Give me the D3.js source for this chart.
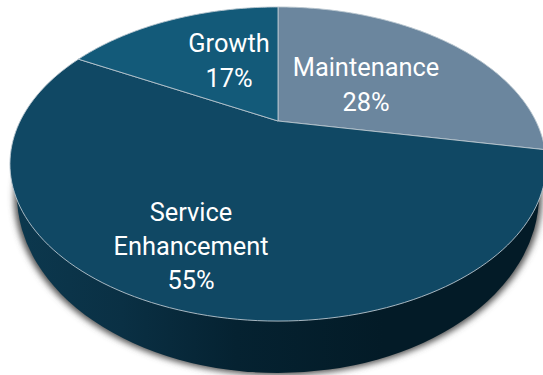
<!DOCTYPE html>
<html>
<head>
<meta charset="utf-8">
<script src="https://cdn.jsdelivr.net/npm/d3@7"></script>
<style>
  html, body { margin: 0; padding: 0; background: #fff; }
  svg { display: block; }
  text { font-family: Roboto, sans-serif; fill: #fff; }
</style>
</head>
<body>
<script>
const categories = ["Maintenance", "Service Enhancement", "Growth"];
const shares = [28, 55, 17];
const sliceColors = ["#6b869e", "#104864", "#135a79"];

const W = 543, H = 375;
const svg = d3.select("body").append("svg").attr("width", W).attr("height", H);
const defs = svg.append("defs");

const sideGrad = defs.append("linearGradient").attr("id", "side");
[[0, "#0c384e"], [0.2, "#0a3044"], [0.42, "#052231"], [0.7, "#031b27"], [1, "#031b27"]]
  .forEach(([o, c]) => sideGrad.append("stop").attr("offset", o).attr("stop-color", c));

const shadow = defs.append("filter").attr("id", "soft")
  .attr("x", "-10%").attr("y", "-10%").attr("width", "120%").attr("height", "120%");
shadow.append("feGaussianBlur").attr("stdDeviation", 3.2);

// Tilted disc: a unit circle seen in perspective, so the centre sits above the ellipse middle.
const cx = 278, radius = 257.8;
const depth = -0.274, yScale = 112.1, yCentre = 121;
function project(angle) {
  const u = Math.sin(angle), v = -Math.cos(angle);
  const w = depth * v + 1;
  return [cx + radius * u / w, (yScale * v + yCentre) / w];
}

const pie = d3.pie().sort(null).value(d => d);
const arcs = pie(shares);
const line = d3.line();

function slicePath(a) {
  const steps = d3.range(0, 121).map(i => project(a.startAngle + (a.endAngle - a.startAngle) * i / 120));
  return line([[cx, yCentre], ...steps]) + "Z";
}

// Cast shadow and the disc's lower wall
const rim = { cx: 278, cy: 195, rx: 261, ry: 178 };
svg.append("ellipse")
  .attr("cx", rim.cx).attr("cy", rim.cy + 1.5).attr("rx", rim.rx + 3).attr("ry", rim.ry + 1)
  .attr("fill", "#555").attr("filter", "url(#soft)");
svg.append("ellipse")
  .attr("cx", rim.cx).attr("cy", rim.cy).attr("rx", rim.rx).attr("ry", rim.ry)
  .attr("fill", "url(#side)");

// Top face
svg.append("g").selectAll("path").data(arcs).join("path")
  .attr("d", slicePath)
  .attr("fill", (d, i) => sliceColors[i])
  .attr("stroke", "#b9c6cf")
  .attr("stroke-width", 0.9)
  .attr("stroke-linejoin", "round");

// Slice labels
const labelLines = [
  { x: 366, ys: [76, 111], text: [categories[0], shares[0] + "%"] },
  { x: 191, ys: [221, 255, 289], text: [...categories[1].split(" "), shares[1] + "%"] },
  { x: 229, ys: [52, 87], text: [categories[2], shares[2] + "%"] }
];
labelLines.forEach(l => {
  l.text.forEach((t, i) => {
    svg.append("text")
      .attr("x", l.x).attr("y", l.ys[i])
      .attr("text-anchor", "middle")
      .attr("font-size", 25.4)
      .text(t);
  });
});
</script>
</body>
</html>
